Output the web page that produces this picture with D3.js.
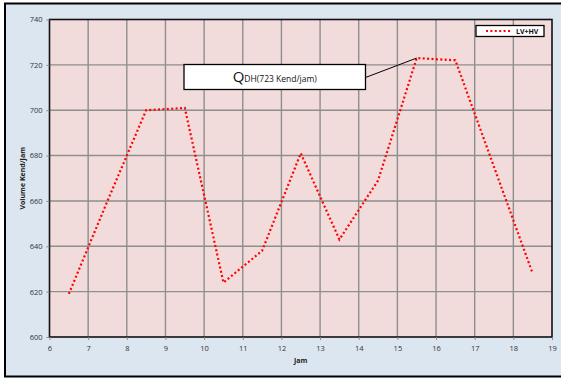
<!DOCTYPE html>
<html>
<head>
<meta charset="utf-8">
<script src="https://cdn.jsdelivr.net/npm/d3@7"></script>
<style>
  html, body { margin: 0; padding: 0; background: #ffffff; }
  svg { display: block; }
  text { font-family: "Open Sans", "Noto Sans", sans-serif; }
</style>
</head>
<body>
<svg id="chart" width="561" height="378"></svg>
<script>
// Hourly traffic volume (LV+HV), vehicles per hour, plotted at mid-hour
const hours = [6.5, 7.5, 8.5, 9.5, 10.5, 11.5, 12.5, 13.5, 14.5, 15.5, 16.5, 17.5, 18.5];
const volumes = [619, 660, 700, 701, 624, 638, 681, 643, 669, 723, 722, 675, 628];
const xTicks = [6, 7, 8, 9, 10, 11, 12, 13, 14, 15, 16, 17, 18, 19];
const yTicks = [600, 620, 640, 660, 680, 700, 720, 740];
const seriesName = "LV+HV";
const peakLabelMain = "Q";
const peakLabelSub = "DH(723 Kend/jam)";

const svg = d3.select("#chart");
const W = 561, H = 378;
const plot = { left: 49.5, right: 552, top: 19.5, bottom: 337 };

// Outer chart area
svg.append("rect")
  .attr("x", 5).attr("y", 3.5).attr("width", W + 10).attr("height", 373)
  .attr("fill", "#dce6f1").attr("stroke", "#000").attr("stroke-width", 2);

const x = d3.scaleLinear().domain([6, 19]).range([plot.left, plot.right]);
const y = d3.scaleLinear().domain([600, 740]).range([plot.bottom, plot.top]);

// Plot background
svg.append("rect")
  .attr("x", plot.left).attr("y", plot.top)
  .attr("width", plot.right - plot.left).attr("height", plot.bottom - plot.top)
  .attr("fill", "#f2dcdb");

// Gridlines
svg.append("g")
  .selectAll("line.v")
  .data(xTicks.slice(1, -1))
  .join("line")
  .attr("x1", d => x(d)).attr("x2", d => x(d))
  .attr("y1", plot.top).attr("y2", plot.bottom)
  .attr("stroke", "#8e8e8e").attr("stroke-width", 1.4);
svg.append("g")
  .selectAll("line.h")
  .data(yTicks.slice(1, -1))
  .join("line")
  .attr("x1", plot.left).attr("x2", plot.right)
  .attr("y1", d => y(d)).attr("y2", d => y(d))
  .attr("stroke", "#8e8e8e").attr("stroke-width", 1.4);

// Plot border
svg.append("rect")
  .attr("x", plot.left).attr("y", plot.top)
  .attr("width", plot.right - plot.left).attr("height", plot.bottom - plot.top)
  .attr("fill", "none").attr("stroke", "#111").attr("stroke-width", 1.6);

// Axes
const xAxis = svg.append("g")
  .attr("transform", `translate(0,${plot.bottom})`)
  .call(d3.axisBottom(x).tickValues(xTicks).tickSize(3).tickPadding(6).tickFormat(d3.format("d")));
const yAxis = svg.append("g")
  .attr("transform", `translate(${plot.left},0)`)
  .call(d3.axisLeft(y).tickValues(yTicks).tickSize(3).tickPadding(4).tickFormat(d3.format("d")));
[xAxis, yAxis].forEach(g => {
  g.select(".domain").remove();
  g.selectAll(".tick line").attr("stroke", "#888");
  g.selectAll("text").attr("fill", "#333").style("font-size", "7.5px");
});

// Axis titles
svg.append("text")
  .attr("x", (plot.left + plot.right) / 2).attr("y", 363)
  .attr("text-anchor", "middle").attr("fill", "#222")
  .style("font-size", "7px").style("font-weight", "bold")
  .text("Jam");
svg.append("text")
  .attr("transform", `translate(24.5,${(plot.top + plot.bottom) / 2}) rotate(-90)`)
  .attr("text-anchor", "middle").attr("fill", "#222")
  .style("font-size", "7px").style("font-weight", "bold")
  .text("Volume Kend/Jam");

// Series line (dotted red)
const line = d3.line().x(d => x(d[0])).y(d => y(d[1]));
const pts = hours.map((h, i) => [h, volumes[i]]);
svg.append("path")
  .datum(pts)
  .attr("d", line)
  .attr("fill", "none").attr("stroke", "#ff0000")
  .attr("stroke-width", 2.2).attr("stroke-dasharray", "2,2.4");

// Peak-hour callout
const peakIdx = volumes.indexOf(d3.max(volumes));
const px = x(hours[peakIdx]), py = y(volumes[peakIdx]);
const box = { x: 184, y: 64.5, w: 181.5, h: 25 };
svg.append("line")
  .attr("x1", box.x + box.w).attr("y1", box.y + 13)
  .attr("x2", px).attr("y2", py)
  .attr("stroke", "#000").attr("stroke-width", 1);
svg.append("rect")
  .attr("x", box.x).attr("y", box.y).attr("width", box.w).attr("height", box.h)
  .attr("fill", "#fff").attr("stroke", "#000").attr("stroke-width", 1.3);
const lbl = svg.append("text")
  .attr("x", box.x + box.w / 2).attr("y", box.y + 17.5)
  .attr("text-anchor", "middle").attr("fill", "#111");
lbl.append("tspan").style("font-size", "15px").text(peakLabelMain);
lbl.append("tspan").style("font-size", "8.5px").text(peakLabelSub);

// Legend
const lg = { x: 476, y: 25.5, w: 68, h: 11 };
svg.append("rect")
  .attr("x", lg.x).attr("y", lg.y).attr("width", lg.w).attr("height", lg.h)
  .attr("fill", "#fff").attr("stroke", "#000").attr("stroke-width", 1.3);
svg.append("line")
  .attr("x1", lg.x + 10).attr("x2", lg.x + 36)
  .attr("y1", lg.y + lg.h / 2).attr("y2", lg.y + lg.h / 2)
  .attr("stroke", "#ff0000").attr("stroke-width", 2).attr("stroke-dasharray", "2,2.4");
svg.append("text")
  .attr("x", lg.x + 40).attr("y", lg.y + lg.h / 2 + 2.5)
  .attr("fill", "#111").style("font-size", "7px").style("font-weight", "bold")
  .text(seriesName);
</script>
</body>
</html>
